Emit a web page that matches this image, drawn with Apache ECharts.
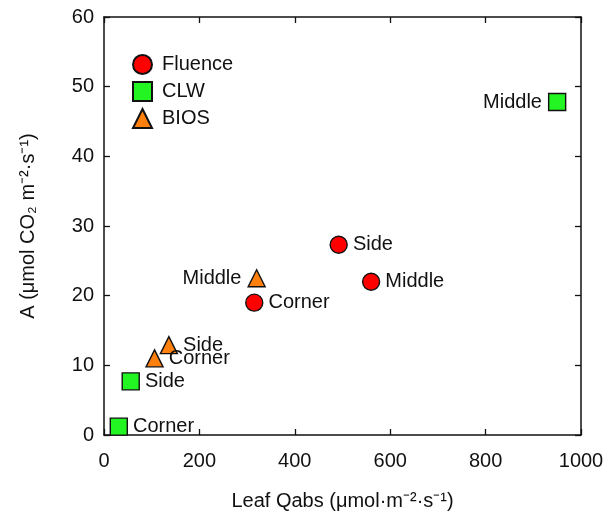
<!DOCTYPE html>
<html><head><meta charset="utf-8">
<script src="https://cdn.jsdelivr.net/npm/echarts@6/dist/echarts.min.js"></script>
<style>html,body{margin:0;padding:0;background:#fff}#c{width:614px;height:512px}</style>
</head><body><div id="c"></div>
<script>
const seriesNames = ['Fluence', 'CLW', 'BIOS'];
const pointNames = ['Corner', 'Side', 'Middle'];
const fluenceQabs = [315, 492, 560];
const fluenceA = [19.0, 27.3, 22.0];
const clwQabs = [31, 56, 950];
const clwA = [1.2, 7.7, 47.8];
const biosQabs = [106, 136, 320];
const biosA = [11.0, 12.9, 22.5];
const xTicks = [0, 200, 400, 600, 800, 1000];
const yTicks = [0, 10, 20, 30, 40, 50, 60];
// label placement per point (Corner, Side, Middle)
const fluenceLabelPos = ['right', 'right', 'right'];
const clwLabelPos = ['right', 'right', 'left'];
const biosLabelPos = ['right', 'right', 'left'];

const FONT = 'Liberation Sans';
const chart = echarts.init(document.getElementById('c'), null, {renderer: 'canvas'});

function mk(xs, ys, pos) {
  return xs.map((x, i) => ({
    value: [x, ys[i]],
    name: pointNames[i],
    label: {position: pos[i], distance: pos[i] === 'left' ? 6 : 5}
  }));
}
const common = {
  type: 'scatter',
  symbolSize: 17,
  label: {show: true, formatter: p => p.name, color: '#111', fontFamily: FONT, fontSize: 20},
  itemStyle: {borderColor: '#111', borderWidth: 1.4, opacity: 1},
  emphasis: {disabled: true}
};
const axisBase = {
  min: 0,
  axisLine: {show: true, onZero: false, lineStyle: {color: '#111', width: 1.5}},
  axisTick: {show: true, inside: true, length: 6, lineStyle: {color: '#111', width: 1.3}},
  splitLine: {show: false},
  axisLabel: {color: '#111', fontFamily: FONT, fontSize: 20}
};
chart.setOption({
  animation: false,
  backgroundColor: '#fff',
  grid: {left: 104, right: 33, top: 17, bottom: 77, containLabel: false, outerBoundsMode: 'none'},
  legend: {
    data: seriesNames,
    orient: 'vertical',
    left: 127, top: 49,
    itemWidth: 19, itemHeight: 19,
    itemGap: 6,
    textStyle: {color: '#111', fontFamily: FONT, fontSize: 20, padding: [0, 0, 0, 5]}
  },
  xAxis: [
    Object.assign({}, axisBase, {
      type: 'value', max: 1000, interval: 200, position: 'bottom',
      axisLabel: Object.assign({}, axisBase.axisLabel, {margin: 16, formatter: v => String(v)}),
      name: 'Leaf Qabs (μmol·m⁻²·s⁻¹)', nameLocation: 'middle', nameGap: 56,
      nameTextStyle: {color: '#111', fontFamily: FONT, fontSize: 20}
    }),
    Object.assign({}, axisBase, {
      type: 'value', max: 1000, interval: 200, position: 'top',
      axisLabel: {show: false}
    })
  ],
  yAxis: [
    Object.assign({}, axisBase, {
      type: 'value', max: 60, interval: 10, position: 'left',
      axisLabel: Object.assign({}, axisBase.axisLabel, {margin: 10}),
      name: 'A (μmol CO₂ m⁻²·s⁻¹)', nameLocation: 'middle', nameGap: 66,
      nameTextStyle: {color: '#111', fontFamily: FONT, fontSize: 20}
    }),
    Object.assign({}, axisBase, {
      type: 'value', max: 60, interval: 10, position: 'right',
      axisLabel: {show: false}
    })
  ],
  series: [
    Object.assign({}, common, {name: 'Fluence', symbol: 'circle', color: '#ff0000',
      itemStyle: Object.assign({}, common.itemStyle, {color: '#ff0000'}),
      data: mk(fluenceQabs, fluenceA, fluenceLabelPos)}),
    Object.assign({}, common, {name: 'CLW', symbol: 'rect', color: '#22f522',
      itemStyle: Object.assign({}, common.itemStyle, {color: '#22f522'}),
      data: mk(clwQabs, clwA, clwLabelPos)}),
    Object.assign({}, common, {name: 'BIOS', symbol: 'triangle', color: '#ff800d',
      itemStyle: Object.assign({}, common.itemStyle, {color: '#ff800d'}),
      data: mk(biosQabs, biosA, biosLabelPos)})
  ]
});
</script></body></html>
